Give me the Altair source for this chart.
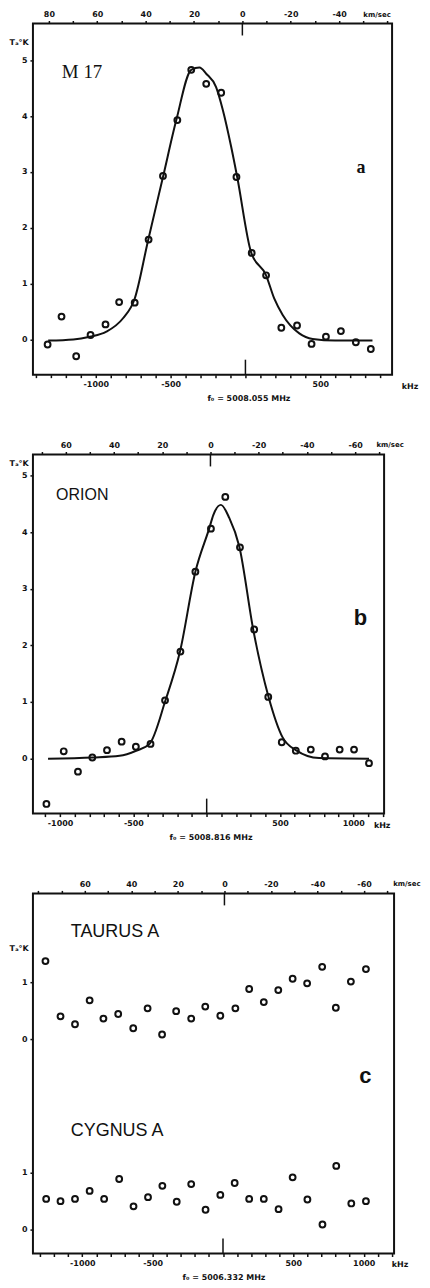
import altair as alt
import pandas as pd

# ---------------- Panel a : M 17 ----------------
A_FREQ = [-1322, -1229, -1131, -1035, -935, -844, -740, -647, -551, -455, -362, -262,
          -162, -60, 42, 138, 240, 345, 442, 538, 638, 738, 838]
A_TEMP = [-0.09, 0.41, -0.30, 0.08, 0.27, 0.67, 0.66, 1.79, 2.93, 3.93, 4.83, 4.58,
          4.42, 2.91, 1.55, 1.15, 0.21, 0.25, -0.08, 0.05, 0.15, -0.05, -0.17]
A_FIT_FREQ = [-1318, -1150, -1040, -929, -818, -740, -651, -551, -462, -362, -307, -262,
              -196, -151, -96, -55, 38, 138, 193, 249, 360, 449, 600, 849]
A_FIT_TEMP = [-0.02, 0.0, 0.05, 0.14, 0.38, 0.73, 1.77, 2.91, 3.93, 4.83, 4.87, 4.76,
              4.52, 4.11, 3.46, 2.91, 1.56, 1.15, 0.73, 0.44, 0.11, 0.01, -0.02, -0.02]

# ---------------- Panel b : Orion ----------------
B_FREQ = [-1093, -975, -878, -780, -680, -580, -483, -383, -284, -179, -77, 29, 127,
          227, 324, 420, 512, 608, 710, 807, 907, 1005, 1107]
B_TEMP = [-0.80, 0.13, -0.23, 0.02, 0.15, 0.30, 0.21, 0.26, 1.03, 1.89, 3.30, 4.06, 4.62,
          3.73, 2.28, 1.09, 0.29, 0.14, 0.16, 0.04, 0.16, 0.16, -0.08]
B_FIT_FREQ = [-1082, -776, -594, -481, -390, -281, -182, -77, 18, 45, 97, 154, 222, 318,
              422, 517, 608, 767, 1107]
B_FIT_TEMP = [0.0, 0.02, 0.05, 0.14, 0.26, 1.03, 1.89, 3.30, 4.07, 4.30, 4.48, 4.25, 3.75,
              2.27, 1.09, 0.38, 0.15, 0.01, 0.0]

# ---------------- Panel c : Taurus A / Cygnus A ----------------
TAU_FREQ = [-1262, -1155, -1052, -948, -850, -745, -638, -536, -433, -333, -226, -126,
            -19, 88, 186, 290, 393, 495, 598, 705, 802, 909, 1016]
TAU_TEMP = [1.37, 0.40, 0.26, 0.68, 0.36, 0.44, 0.19, 0.54, 0.08, 0.49, 0.36, 0.57,
            0.41, 0.54, 0.88, 0.65, 0.86, 1.06, 0.98, 1.27, 0.55, 1.01, 1.23]
CYG_FREQ = [-1257, -1155, -1052, -948, -845, -738, -636, -533, -431, -329, -226, -124,
            -19, 83, 186, 290, 395, 495, 600, 707, 805, 912, 1016]
CYG_TEMP = [0.54, 0.50, 0.54, 0.68, 0.54, 0.89, 0.41, 0.57, 0.77, 0.49, 0.80, 0.35,
            0.61, 0.82, 0.54, 0.54, 0.36, 0.92, 0.53, 0.09, 1.12, 0.46, 0.50]
CYG_BASE = -3.35  # Cygnus A zero level on the shared vertical scale

# ---------------- axes ----------------
FREQ_TICKS = list(range(-1400, 1300, 100))
VEL_TICKS = list(range(-80, 90, 10))
Y_TICKS_AB = [0, 1, 2, 3, 4, 5]
Y_TICKS_C = [CYG_BASE, CYG_BASE + 1, 0, 1]

BLACK = "#111111"


def panel(pts, fit, texts, xdom, ydom, vdom, w, h, ftitle, ftitle_x, yticks, ylabel_expr,
          ytitle_y, vel_label_expr, kms_v, khz_f):
    xs = alt.Scale(domain=xdom, nice=False, zero=False)
    xaxis = alt.Axis(values=[t for t in FREQ_TICKS if xdom[0] <= t <= xdom[1]],
                     labelExpr="datum.value != 0 && datum.value % 500 == 0 ? toString(datum.value) : ''",
                     title=ftitle, titleX=ftitle_x, titleAnchor="middle", titlePadding=6,
                     labelPadding=3, orient="bottom")
    ys = alt.Scale(domain=ydom, nice=False, zero=False)
    yaxis = alt.Axis(values=yticks, labelExpr=ylabel_expr, title="Tₐ°K", titleAngle=0,
                     titleAlign="left", titleBaseline="middle", titleX=-24, titleY=ytitle_y,
                     labelPadding=3)

    def X(f):
        return alt.X(f, type="quantitative", scale=xs, axis=xaxis)

    def XD(v):
        return alt.XDatum(v, type="quantitative", scale=xs, axis=xaxis)

    def Y(f):
        return alt.Y(f, type="quantitative", scale=ys, axis=yaxis)

    def YD(v):
        return alt.YDatum(v, type="quantitative", scale=ys, axis=yaxis)

    one = alt.Data(values=[{}])
    layers = []
    if fit is not None:
        layers.append(alt.Chart(fit).mark_line(color=BLACK, strokeWidth=2, interpolate="monotone")
                      .encode(x=X("f"), y=Y("T")))
    layers.append(alt.Chart(pts).mark_point(shape="circle", filled=False, color=BLACK,
                                            strokeWidth=2, size=34, opacity=1)
                  .encode(x=X("f"), y=Y("T")))
    for (tx, f, t, font, size, weight, align) in texts:
        layers.append(alt.Chart(one).mark_text(text=tx, font=font, fontSize=size, fontWeight=weight,
                                               align=align, baseline="middle", color=BLACK)
                      .encode(x=XD(f), y=YD(t)))
    # long tick at zero frequency
    tick_len = 15 * (ydom[1] - ydom[0]) / h
    layers.append(alt.Chart(one).mark_rule(color=BLACK, strokeWidth=1.5)
                  .encode(x=XD(0), y=YD(ydom[0]), y2=alt.Y2Datum(ydom[0] + tick_len)))
    layers.append(alt.Chart(one).mark_text(text="kHz", font="DejaVu Sans", fontSize=8,
                                           fontWeight="bold", align="center", baseline="middle",
                                           dy=12, color=BLACK)
                  .encode(x=XD(khz_f), y=YD(ydom[0])))
    freq_layer = alt.layer(*layers)

    vs = alt.Scale(domain=vdom, reverse=True, nice=False, zero=False)
    vaxis = alt.Axis(orient="top", values=[t for t in VEL_TICKS if vdom[0] <= t <= vdom[1]],
                     labelExpr=vel_label_expr, title=None, labelPadding=2)
    kms = alt.Chart(one).mark_text(text="km/sec", font="DejaVu Sans", fontSize=7,
                                   fontWeight="bold", align="center", baseline="middle",
                                   dy=-9, color=BLACK).encode(
        x=alt.XDatum(kms_v, type="quantitative", scale=vs, axis=vaxis), y=YD(ydom[1]))
    top_tick_len = 12 * (ydom[1] - ydom[0]) / h
    vrule = alt.Chart(one).mark_rule(color=BLACK, strokeWidth=1.5).encode(
        x=alt.XDatum(0, type="quantitative", scale=vs, axis=vaxis),
        y=YD(ydom[1]), y2=alt.Y2Datum(ydom[1] - top_tick_len))
    vel_layer = alt.layer(kms, vrule)

    return alt.layer(freq_layer, vel_layer).resolve_scale(x="independent").properties(width=w, height=h)


a_pts = pd.DataFrame({"f": A_FREQ, "T": A_TEMP})
a_fit = pd.DataFrame({"f": A_FIT_FREQ, "T": A_FIT_TEMP})
b_pts = pd.DataFrame({"f": B_FREQ, "T": B_TEMP})
b_fit = pd.DataFrame({"f": B_FIT_FREQ, "T": B_FIT_TEMP})
c_pts = pd.concat([
    pd.DataFrame({"f": TAU_FREQ, "T": TAU_TEMP}),
    pd.DataFrame({"f": CYG_FREQ, "T": [t + CYG_BASE for t in CYG_TEMP]}),
], ignore_index=True)

VEL_LABEL = "datum.value % 20 == 0 ? toString(datum.value) : ''"

pa = panel(a_pts, a_fit,
           [("M 17", -1227, 4.8, "Liberation Serif", 19, "normal", "left"),
            ("a", 773, 3.07, "Liberation Serif", 18, "bold", "center")],
           xdom=[-1420, 980], ydom=[-0.63, 5.66], vdom=[-61.9, 86.6], w=360, h=352,
           ftitle="f₀ = 5008.055 MHz", ftitle_x=216, yticks=Y_TICKS_AB,
           ylabel_expr="toString(datum.value)", ytitle_y=19,
           vel_label_expr="datum.value % 20 == 0 && datum.value != -60 ? toString(datum.value) : ''",
           kms_v=-55.7, khz_f=1100)

pb = panel(b_pts, b_fit,
           [("ORION", -1027, 4.65, "Liberation Sans", 16, "normal", "left"),
            ("b", 1048, 2.48, "Liberation Sans", 22, "bold", "center")],
           xdom=[-1185, 1210], ydom=[-0.97, 5.37], vdom=[-72.0, 73.6], w=352, h=360,
           ftitle="f₀ = 5008.816 MHz", ftitle_x=178, yticks=Y_TICKS_AB,
           ylabel_expr="toString(datum.value)", ytitle_y=9,
           vel_label_expr=VEL_LABEL, kms_v=-74.5, khz_f=1197)

pc = panel(c_pts, None,
           [("TAURUS A", -1082, 1.88, "Liberation Sans", 18, "normal", "left"),
            ("CYGNUS A", -1082, -1.61, "Liberation Sans", 18, "normal", "left"),
            ("c", 1011, -0.65, "Liberation Sans", 22, "bold", "center")],
           xdom=[-1351, 1216], ydom=[-3.77, 2.56], vdom=[-72.9, 82.3], w=362, h=361,
           ftitle="f₀ = 5006.332 MHz", ftitle_x=191, yticks=Y_TICKS_C,
           ylabel_expr="datum.value < -1 ? toString(round(datum.value + 3.35)) : toString(datum.value)",
           ytitle_y=55,
           vel_label_expr="datum.value % 20 == 0 && datum.value <= 60 ? toString(datum.value) : ''",
           kms_v=-78.4, khz_f=1259)

chart = alt.vconcat(pa, pb, pc, spacing=37).properties(padding=0).configure_axis(
    labelFont="DejaVu Sans", labelFontSize=8, labelFontWeight="bold", labelColor=BLACK,
    tickColor=BLACK, tickWidth=1.5, tickSize=3, domain=False, grid=False,
    titleFont="DejaVu Sans", titleFontSize=8, titleFontWeight="bold", titleColor=BLACK,
    labelFlush=False, labelOverlap=False,
).configure_view(stroke=BLACK, strokeWidth=2)

chart.save("out.html", embed_options={"renderer": "svg", "actions": False})
